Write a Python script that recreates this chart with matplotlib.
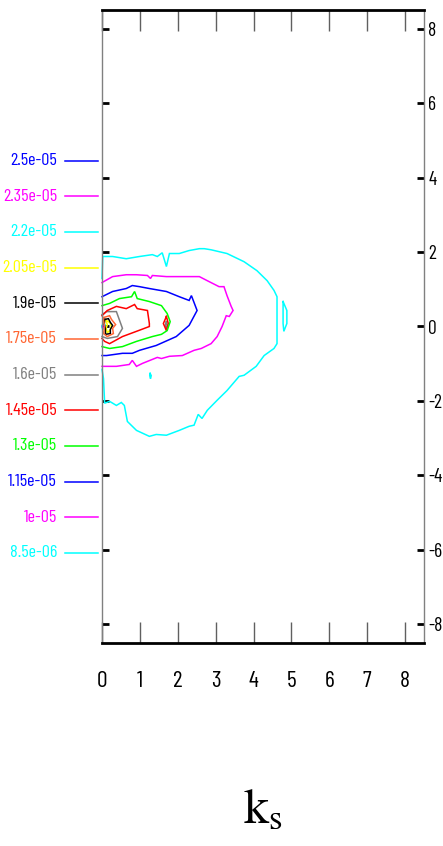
import matplotlib
matplotlib.use('Agg')
import matplotlib.pyplot as plt
from matplotlib.lines import Line2D
from matplotlib import font_manager

# ---------------- data ----------------
level_labels = ['2.5e-05', '2.35e-05', '2.2e-05', '2.05e-05', '1.9e-05', '1.75e-05',
                '1.6e-05', '1.45e-05', '1.3e-05', '1.15e-05', '1e-05', '8.5e-06']
level_colors = ['#0000ff', '#ff00ff', '#00ffff', '#ffff00', '#000000', '#ff6633',
                '#808080', '#ff0000', '#00ff00', '#0000ff', '#ff00ff', '#00ffff']

# contour paths (x, y), per level
c_2p50e5 = [[(0.02, 0.03), (0.05, 0.0), (0.02, -0.03), (0.0, 0.0), (0.02, 0.03)]]
c_2p35e5 = [[(0.03, 0.05), (0.07, 0.0), (0.04, -0.06), (0.0, 0.0), (0.03, 0.05)]]
c_2p20e5 = [[(0.03, 0.09), (0.09, 0.03), (0.07, -0.08), (0.01, -0.06), (0.0, 0.02), (0.03, 0.09)]]
c_2p05e5 = [[(0.10, 0.17), (0.20, 0.11), (0.25, 0.00), (0.20, -0.11), (0.14, -0.17),
             (0.11, -0.05), (0.14, 0.05), (0.10, 0.17)]]
c_1p90e5 = [[(0.07, 0.19), (0.17, 0.21), (0.22, 0.11), (0.28, 0.03), (0.22, -0.08),
             (0.22, -0.19), (0.09, -0.21), (0.09, -0.05), (0.06, 0.05), (0.07, 0.19)]]
c_1p75e5 = [[(0.04, 0.24), (0.20, 0.29), (0.25, 0.19), (0.36, 0.05), (0.28, -0.05),
             (0.30, -0.19), (0.14, -0.27), (0.04, -0.19), (0.07, 0.00), (0.04, 0.16), (0.04, 0.24)]]
c_1p60e5 = [[(0.0, 0.32), (0.12, 0.40), (0.38, 0.40), (0.54, -0.05), (0.41, -0.27),
             (0.14, -0.32), (0.0, -0.27)],
            [(1.70, 0.13), (1.72, 0.03), (1.70, -0.05), (1.67, 0.03), (1.70, 0.13)]]
c_1p45e5 = [[(0.0, 0.29), (0.14, 0.43), (0.38, 0.54), (0.64, 0.48), (0.86, 0.59), (0.93, 0.48),
             (1.20, 0.43), (1.25, 0.08), (1.25, 0.00), (0.91, -0.13), (0.54, -0.27),
             (0.20, -0.46), (0.07, -0.40), (0.0, -0.32)],
            [(1.70, 0.27), (1.75, 0.08), (1.70, -0.11), (1.62, 0.08), (1.70, 0.27)]]
c_1p30e5 = [[(0.0, 0.56), (0.20, 0.62), (0.46, 0.75), (0.78, 0.80), (0.86, 0.94), (0.93, 0.75),
             (1.25, 0.67), (1.57, 0.56), (1.72, 0.35), (1.80, 0.13), (1.72, -0.11),
             (1.57, -0.21), (1.33, -0.27), (0.91, -0.40), (0.54, -0.54), (0.20, -0.59),
             (0.0, -0.54)]]
c_1p15e5 = [[(0.0, 0.80), (0.28, 0.94), (0.64, 1.02), (0.80, 1.10), (0.99, 1.07), (1.25, 1.02),
             (1.70, 0.94), (2.04, 0.80), (2.30, 0.70), (2.36, 0.83), (2.51, 0.43),
             (2.30, 0.03), (1.96, -0.27), (1.43, -0.51), (0.99, -0.64), (0.80, -0.72),
             (0.54, -0.72), (0.12, -0.78), (0.0, -0.78)]]
c_1p00e5 = [[(0.0, 1.18), (0.28, 1.34), (0.64, 1.39), (0.91, 1.39), (1.20, 1.37), (1.28, 1.29),
             (1.33, 1.37), (1.70, 1.34), (2.22, 1.34), (2.57, 1.34), (2.78, 1.23),
             (3.09, 1.07), (3.22, 1.07), (3.30, 0.83), (3.41, 0.54), (3.46, 0.43),
             (3.36, 0.27), (3.28, 0.29), (3.17, 0.00), (3.04, -0.27), (2.88, -0.46),
             (2.62, -0.59), (2.43, -0.64), (2.12, -0.78), (1.78, -0.80), (1.57, -0.86),
             (1.46, -0.83), (1.07, -0.99), (0.91, -1.07), (0.80, -0.91), (0.72, -1.02),
             (0.38, -1.07), (0.0, -1.07)]]
c_0p85e5 = [[(0.0, 1.29), (0.02, 1.88), (0.28, 1.88), (0.64, 1.82), (0.99, 1.88), (1.33, 1.93),
             (1.46, 1.88), (1.59, 1.98), (1.70, 1.61), (1.78, 1.96), (2.04, 1.96),
             (2.30, 2.04), (2.57, 2.09), (2.70, 2.09), (2.88, 2.06), (3.30, 1.96),
             (3.75, 1.74), (4.09, 1.50), (4.36, 1.23), (4.54, 0.97), (4.62, 0.80),
             (4.62, -0.46), (4.54, -0.59), (4.28, -0.78), (4.07, -1.07), (3.75, -1.31),
             (3.62, -1.34), (3.30, -1.72), (3.04, -1.98), (2.78, -2.25), (2.64, -2.47),
             (2.54, -2.36), (2.43, -2.65), (2.30, -2.68), (2.04, -2.79), (1.70, -2.92),
             (1.43, -2.90), (1.25, -2.95), (0.91, -2.79), (0.67, -2.55), (0.59, -2.12),
             (0.51, -2.04), (0.38, -2.12), (0.20, -2.01), (0.07, -2.06), (0.04, -1.40),
             (0.0, -1.15)],
            [(4.78, 0.67), (4.88, 0.43), (4.88, 0.08), (4.80, -0.13), (4.78, 0.08),
             (4.78, 0.48), (4.78, 0.67)],
            [(1.27, -1.26), (1.30, -1.32), (1.28, -1.40), (1.26, -1.32), (1.27, -1.26)]]

level_paths = [c_2p50e5, c_2p35e5, c_2p20e5, c_2p05e5, c_1p90e5, c_1p75e5,
               c_1p60e5, c_1p45e5, c_1p30e5, c_1p15e5, c_1p00e5, c_0p85e5]

x_ticks = [0, 1, 2, 3, 4, 5, 6, 7, 8]
x_tick_labels = ['0', '1', '2', '3', '4', '5', '6', '7', '8']
y_ticks = [8, 6, 4, 2, 0, -2, -4, -6, -8]
y_tick_labels = ['8', '6', '4', '2', '0', '-2', '-4', '-6', '-8']

# ---------------- fonts ----------------
names = {f.name for f in font_manager.fontManager.ttflist}
cond = 'Barlow Condensed' if 'Barlow Condensed' in names else 'Liberation Sans'
plt.rcParams['font.family'] = [cond, 'DejaVu Sans']
plt.rcParams['mathtext.fontset'] = 'stix'

# ---------------- figure ----------------
W, H = 443, 846
fig = plt.figure(figsize=(W / 100, H / 100), dpi=100)
ax = fig.add_axes([102 / W, (H - 643) / H, 322 / W, 633 / H])

for color, paths in zip(level_colors, level_paths):
    for p in paths:
        xs = [q[0] for q in p]
        ys = [q[1] for q in p]
        ax.plot(xs, ys, color=color, lw=1.1, solid_joinstyle='miter', clip_on=False)

ax.set_xlim(0, 8.5)
ax.set_ylim(-8.5, 8.5)

for s in ('top', 'bottom'):
    ax.spines[s].set_linewidth(2.0)
    ax.spines[s].set_color('black')
for s in ('left', 'right'):
    ax.spines[s].set_linewidth(1.0)
    ax.spines[s].set_color('#808080')

ax.set_xticks(x_ticks)
ax.set_xticklabels(x_tick_labels)
ax.set_yticks(y_ticks)
ax.set_yticklabels(y_tick_labels)
ax.tick_params(axis='x', direction='in', length=15, width=1, color='#606060',
               top=True, bottom=True, labelbottom=True, labeltop=False,
               pad=20, labelsize=17)
ax.tick_params(axis='y', direction='in', length=5, width=2, color='black',
               left=True, right=True, labelleft=False, labelright=True,
               pad=3, labelsize=14)

# legend of contour levels (left side)
top_y = 160.7
step = 35.65
for i, (lab, col) in enumerate(zip(level_labels, level_colors)):
    yy = 1 - (top_y + i * step) / H
    fig.text(57 / W, yy, lab, color=col, ha='right', va='center', fontsize=13)
    fig.add_artist(Line2D([65 / W, 98 / W], [yy, yy], color=col, lw=1.1,
                          transform=fig.transFigure))

fig.text(263 / W, 1 - 822 / H, r'$\mathrm{k}_\mathrm{s}$', ha='center', va='baseline',
         fontsize=36)

fig.savefig('out.png', dpi=100)
